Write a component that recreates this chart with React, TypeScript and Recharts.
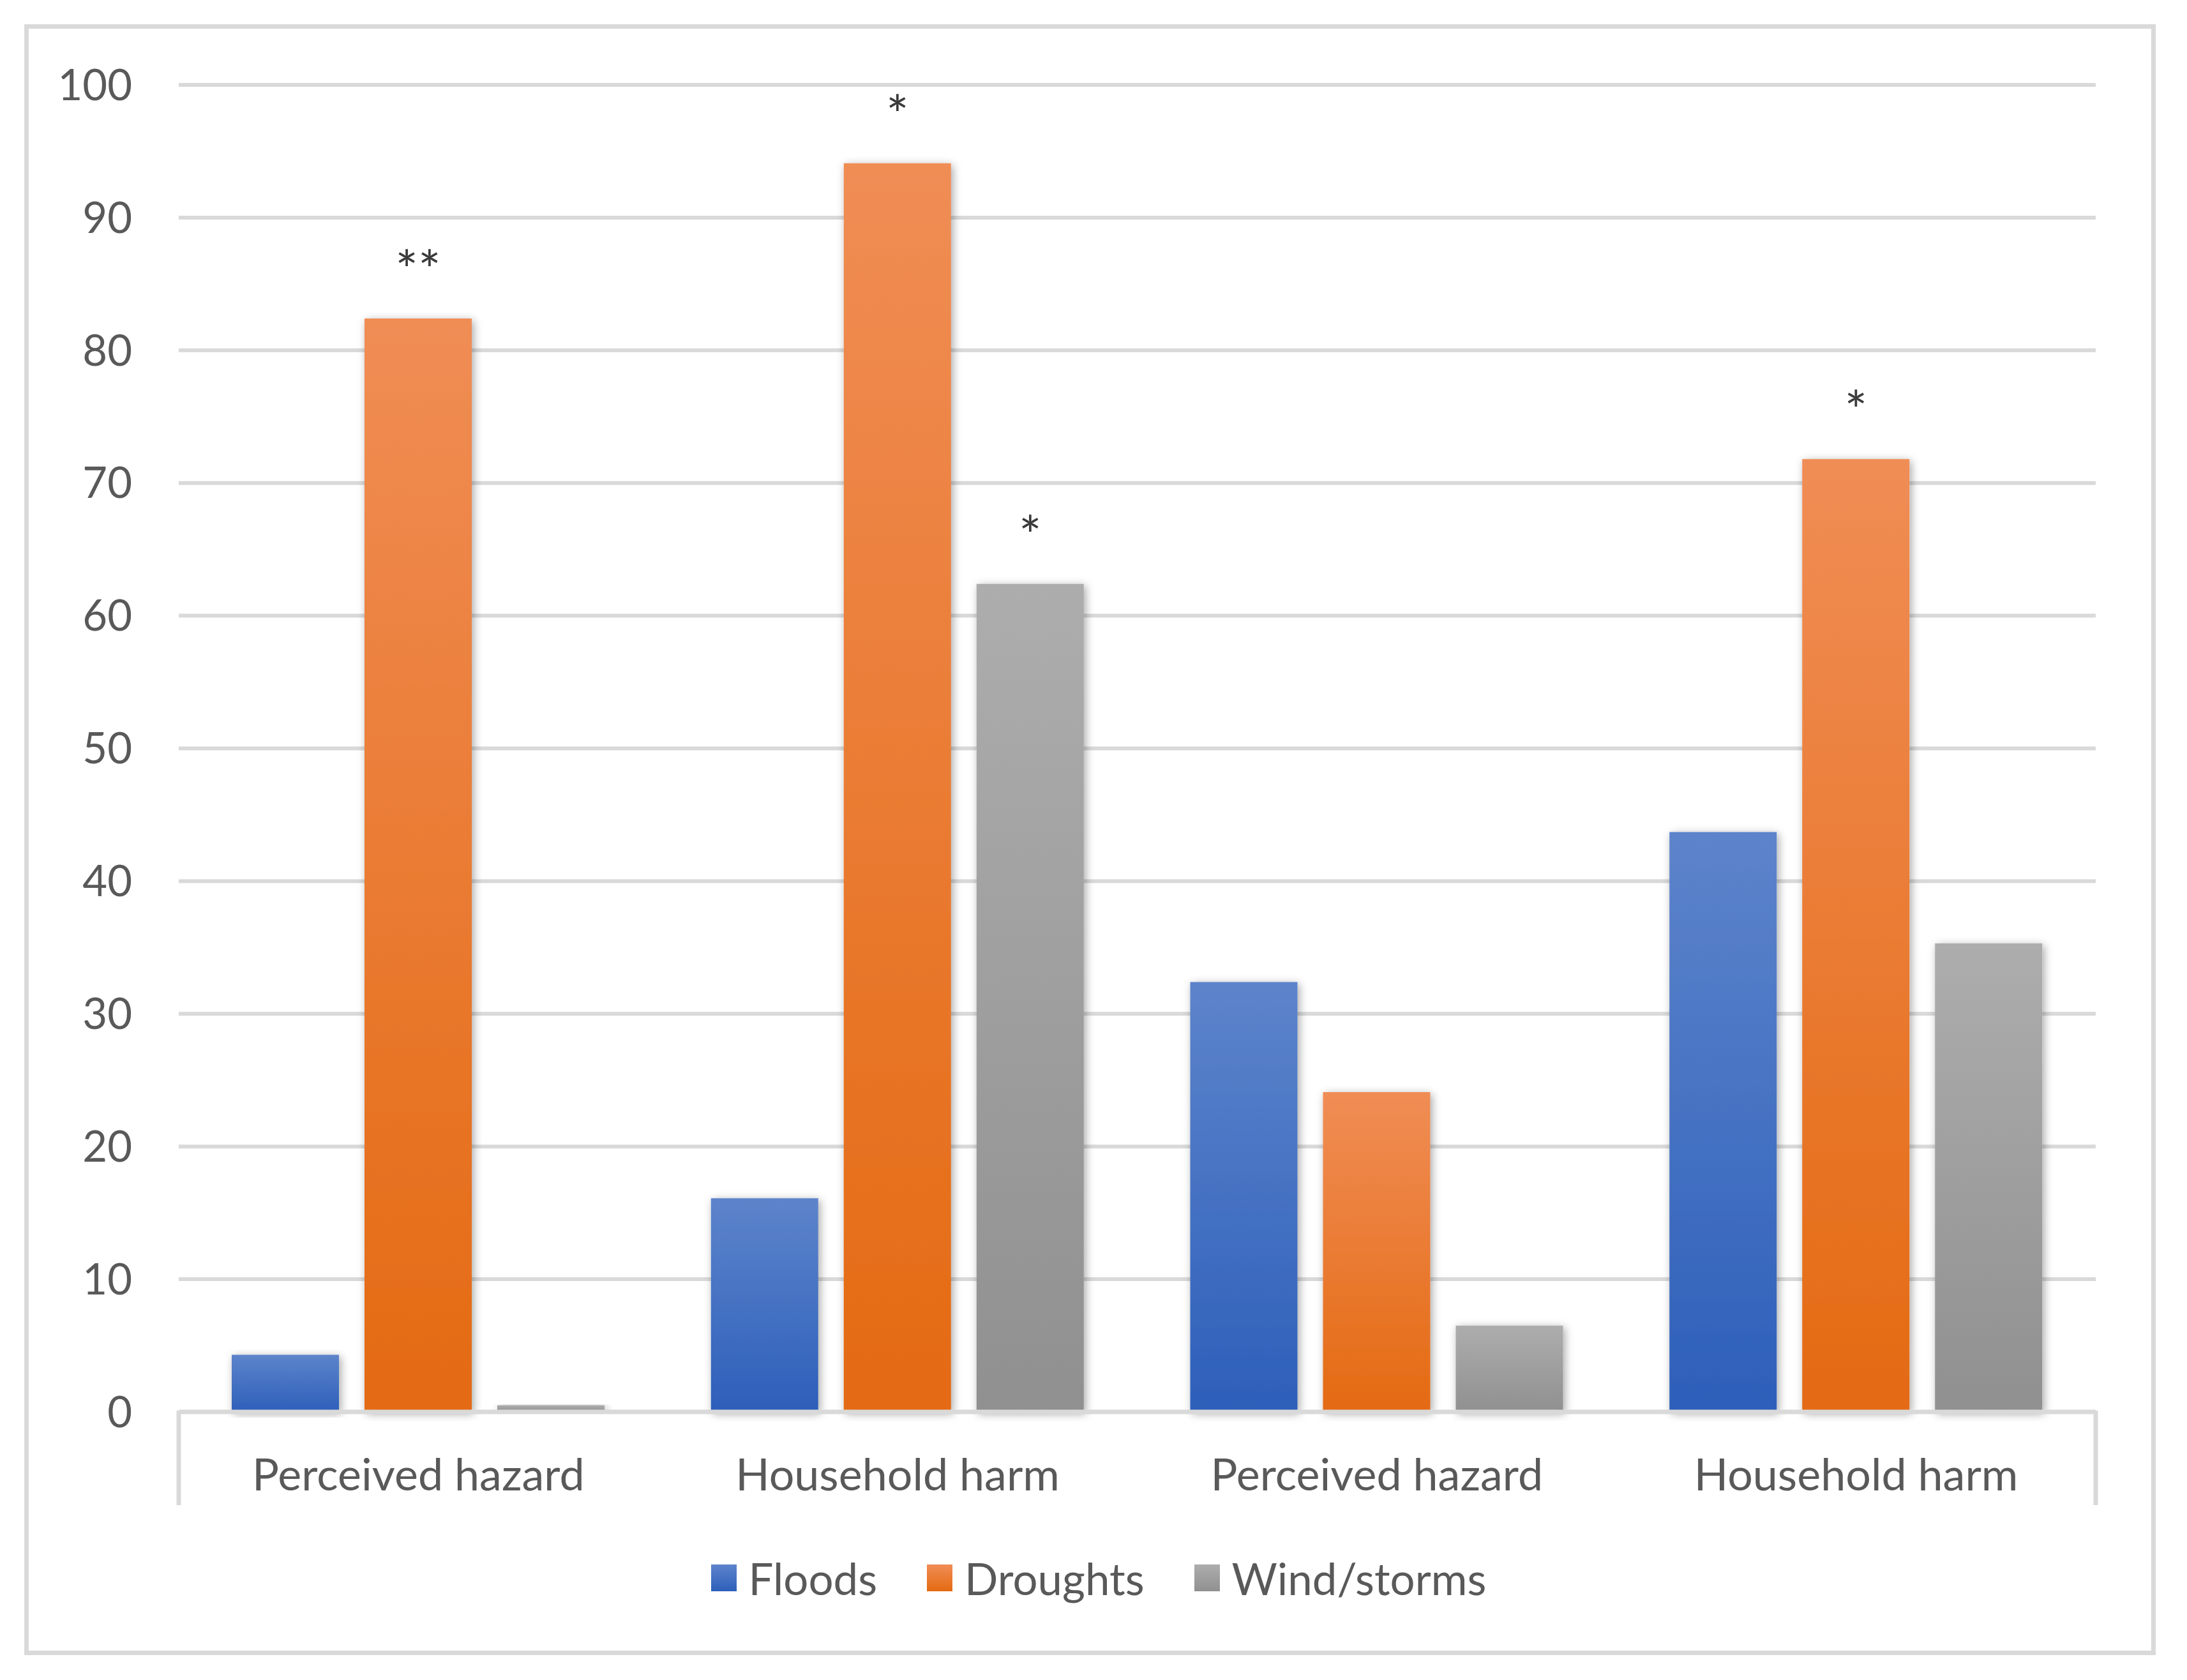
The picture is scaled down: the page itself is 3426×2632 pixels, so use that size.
import React from 'react';
import { BarChart, Bar, XAxis, YAxis, CartesianGrid, Legend, LabelList, Rectangle } from 'recharts';

const categories = ['Perceived hazard', 'Household harm', 'Perceived hazard', 'Household harm'];
const seriesNames = ['Floods', 'Droughts', 'Wind/storms'];
const floods = [4.3, 16.1, 32.4, 43.7];
const droughts = [82.4, 94.1, 24.1, 71.8];
const windStorms = [0.5, 62.4, 6.5, 35.3];
const floodsMarks = ['', '', '', ''];
const droughtsMarks = ['**', '*', '', '*'];
const windMarks = ['', '*', '', ''];
const yTicks = [0, 10, 20, 30, 40, 50, 60, 70, 80, 90, 100];

const chartData = categories.map((name, i) => ({
  key: i,
  name,
  floods: floods[i],
  droughts: droughts[i],
  wind: windStorms[i],
  floodsMark: floodsMarks[i],
  droughtsMark: droughtsMarks[i],
  windMark: windMarks[i],
}));

const W = 3426;
const H = 2632;
const MARGIN = { top: 133, right: 143, bottom: 270, left: 60 };
const Y_AXIS_W = 220;
const X_AXIS_H = 150;
const PLOT_W = W - MARGIN.left - MARGIN.right - Y_AXIS_W;
const BAND_W = PLOT_W / categories.length;

const FONT = 'Lato, "Open Sans", sans-serif';
const TEXT = '#595959';
const GRID = '#d9d9d9';

const ShadowBar = (props: any) => <Rectangle {...props} filter="url(#barShadow)" />;

const Mark = ({ x, y, width, value }: any) => {
  if (!value) return null;
  return (
    <text x={x + width / 2} y={y - 46} textAnchor="middle" fontFamily={FONT} fontSize={84} fill="#3a3a3a">
      {value}
    </text>
  );
};

const CategoryTick = ({ x, y, payload, index }: any) => {
  const last = index === categories.length - 1;
  return (
    <g>
      <text x={x} y={y} dy="0.71em" textAnchor="middle" fontFamily={FONT} fontSize={70} fill={TEXT}>
        {categories[payload.value]}
      </text>
      {index === 0 && <line x1={x - BAND_W / 2} x2={x - BAND_W / 2} y1={y - 75} y2={y + 73} stroke={GRID} strokeWidth={7} />}
      {last && <line x1={x + BAND_W / 2} x2={x + BAND_W / 2} y1={y - 75} y2={y + 73} stroke={GRID} strokeWidth={7} />}
    </g>
  );
};

const LegendContent = ({ payload }: any) => {
  const items = [...(payload || [])].sort((a: any, b: any) => seriesNames.indexOf(a.value) - seriesNames.indexOf(b.value));
  return (
    <div style={{ display: 'flex', justifyContent: 'center', alignItems: 'center', height: 90 }}>
      {items.map((entry: any, i: number) => (
        <div key={i} style={{ display: 'flex', alignItems: 'center', marginRight: i < items.length - 1 ? 78 : 0 }}>
          <svg width={40} height={42} style={{ marginRight: 19 }}>
            <rect width={40} height={42} fill={entry.color} />
          </svg>
          <span style={{ fontFamily: FONT, fontSize: 69, color: TEXT, lineHeight: 1 }}>{entry.value}</span>
        </div>
      ))}
    </div>
  );
};

export default function App() {
  return (
    <div style={{ position: 'absolute', left: 0, top: 0, width: W, height: H, background: '#fff' }}>
      <div
        style={{
          position: 'absolute',
          left: 38,
          top: 38,
          width: 3339,
          height: 2555,
          border: `7px solid ${GRID}`,
          boxSizing: 'border-box',
        }}
      />
      <div style={{ position: 'absolute', left: 0, top: 0 }}>
        <BarChart width={W} height={H} data={chartData} margin={MARGIN} barSize={168} barGap={40}>
          <defs>
            <linearGradient id="gradFloods" x1="0" y1="0" x2="0" y2="1">
              <stop offset="0%" stopColor="#5d84cb" />
              <stop offset="100%" stopColor="#2d5fba" />
            </linearGradient>
            <linearGradient id="gradDroughts" x1="0" y1="0" x2="0" y2="1">
              <stop offset="0%" stopColor="#f08d55" />
              <stop offset="100%" stopColor="#e46a12" />
            </linearGradient>
            <linearGradient id="gradWind" x1="0" y1="0" x2="0" y2="1">
              <stop offset="0%" stopColor="#adadad" />
              <stop offset="100%" stopColor="#909090" />
            </linearGradient>
            <filter id="barShadow" x="-20%" y="-10%" width="140%" height="120%">
              <feDropShadow dx="3" dy="3" stdDeviation="7" floodColor="#000" floodOpacity="0.35" />
            </filter>
          </defs>
          <CartesianGrid vertical={false} stroke={GRID} strokeWidth={6} />
          <XAxis
            dataKey="key"
            type="category"
            height={X_AXIS_H}
            axisLine={{ stroke: GRID, strokeWidth: 7 }}
            tickLine={false}
            tickSize={0}
            tickMargin={73}
            tick={<CategoryTick />}
            interval={0}
          />
          <YAxis
            width={Y_AXIS_W}
            domain={[0, 100]}
            ticks={yTicks}
            axisLine={false}
            tickLine={false}
            tickSize={0}
            tickMargin={73}
            tick={{ fontFamily: FONT, fontSize: 67, fill: TEXT }}
          />
          <Legend
            layout="horizontal"
            verticalAlign="middle"
            align="center"
            content={<LegendContent />}
            wrapperStyle={{ position: 'absolute', top: 2427, left: 26, width: W - 36, height: 90 }}
          />
          <Bar dataKey="floods" name="Floods" fill="url(#gradFloods)" shape={ShadowBar} isAnimationActive={false}>
            <LabelList dataKey="floodsMark" content={<Mark />} />
          </Bar>
          <Bar dataKey="droughts" name="Droughts" fill="url(#gradDroughts)" shape={ShadowBar} isAnimationActive={false}>
            <LabelList dataKey="droughtsMark" content={<Mark />} />
          </Bar>
          <Bar dataKey="wind" name="Wind/storms" fill="url(#gradWind)" shape={ShadowBar} isAnimationActive={false}>
            <LabelList dataKey="windMark" content={<Mark />} />
          </Bar>
        </BarChart>
      </div>
    </div>
  );
}
